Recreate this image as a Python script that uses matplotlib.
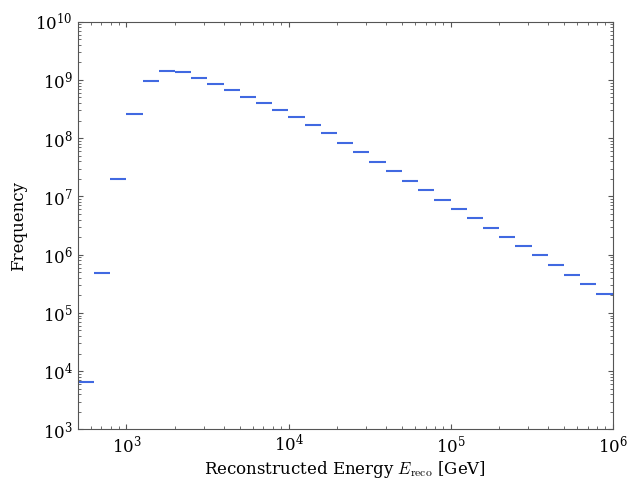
import numpy as np
import matplotlib
matplotlib.use('Agg')
from matplotlib import pyplot as plt

# bin edges: 10 per decade from 500 GeV up to 1e6 GeV
bin_edges = np.logspace(np.log10(500), 6, 34)

# counts per bin
counts = [6.5e3, 4.86e5, 1.95e7, 2.6e8, 9.5e8, 1.42e9, 1.35e9, 1.08e9,
          8.5e8, 6.7e8, 5.1e8, 3.96e8, 3.08e8, 2.27e8, 1.68e8, 1.21e8,
          8.3e7, 5.8e7, 3.9e7, 2.72e7, 1.85e7, 1.27e7, 8.6e6, 6.05e6,
          4.24e6, 2.89e6, 2.02e6, 1.38e6, 9.7e5, 6.6e5, 4.45e5, 3.08e5,
          2.07e5]

plt.rcParams['font.family'] = 'DejaVu Serif'
plt.rcParams['mathtext.fontset'] = 'cm'
plt.rcParams['font.size'] = 12

fig = plt.figure(figsize=(6.28, 4.8), dpi=100)
ax = fig.add_axes([0.1237, 0.1056, 0.8519, 0.8492])

ax.hlines(counts, bin_edges[:-1], bin_edges[1:], color='royalblue', linewidth=1.5)

ax.set_xscale('log')
ax.set_yscale('log')
ax.set_xlim(500, 1e6)
ax.set_ylim(1e3, 1e10)

ax.tick_params(which='both', direction='in', top=True, right=True, color='#555555')
ax.tick_params(which='major', length=3.6)
ax.tick_params(which='minor', length=2.4)
for s in ax.spines.values():
    s.set_color('#555555')

ax.set_xlabel(r'Reconstructed Energy $E_\mathrm{reco}$ [GeV]', labelpad=2)
ax.set_ylabel('Frequency', labelpad=6)

fig.savefig('out.png')
